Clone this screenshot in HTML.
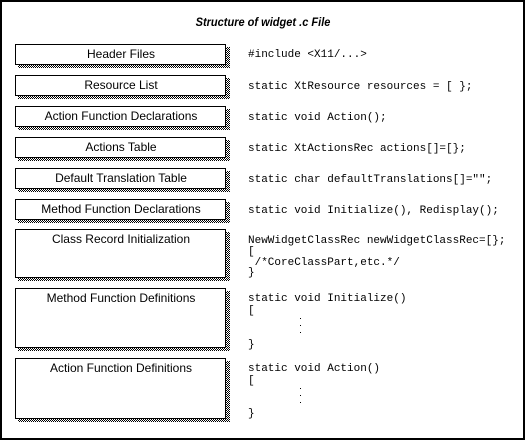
<!DOCTYPE html>
<html><head><style>
html,body{margin:0;padding:0;background:#fff}
svg{display:block}
.l{font-family:"Liberation Sans",sans-serif;font-size:12px;fill:#000}
.c{font-family:"Liberation Mono",monospace;font-size:11px;fill:#000}
</style></head><body>
<svg width="526" height="441" xmlns="http://www.w3.org/2000/svg">
<defs>
<pattern id="d" width="2" height="2" patternUnits="userSpaceOnUse">
<rect width="2" height="2" fill="#fff"/><rect width="1" height="1" fill="#000"/><rect x="1" y="1" width="1" height="1" fill="#000"/>
</pattern>
</defs>
<rect x="1" y="1" width="523" height="438" fill="#fff" stroke="#000" stroke-width="2"/>
<text x="263" y="26" text-anchor="middle" font-family="Liberation Sans,sans-serif" font-size="12" font-style="italic" font-weight="bold" transform="translate(263 0) scale(0.92 1) translate(-263 0)">Structure of widget .c File</text>
<g>
<rect x="18" y="47" width="212" height="21" fill="url(#d)"/><rect x="15.5" y="44.5" width="210" height="20" fill="#fff" stroke="#000"/>
<rect x="18" y="78" width="212" height="21" fill="url(#d)"/><rect x="15.5" y="75.5" width="210" height="20" fill="#fff" stroke="#000"/>
<rect x="18" y="109" width="212" height="21" fill="url(#d)"/><rect x="15.5" y="106.5" width="210" height="20" fill="#fff" stroke="#000"/>
<rect x="18" y="140" width="212" height="21" fill="url(#d)"/><rect x="15.5" y="137.5" width="210" height="20" fill="#fff" stroke="#000"/>
<rect x="18" y="171" width="212" height="21" fill="url(#d)"/><rect x="15.5" y="168.5" width="210" height="20" fill="#fff" stroke="#000"/>
<rect x="18" y="202" width="212" height="21" fill="url(#d)"/><rect x="15.5" y="199.5" width="210" height="20" fill="#fff" stroke="#000"/>
<rect x="18" y="232" width="212" height="49" fill="url(#d)"/><rect x="15.5" y="229.5" width="210" height="48" fill="#fff" stroke="#000"/>
<rect x="18" y="291" width="212" height="60" fill="url(#d)"/><rect x="15.5" y="288.5" width="210" height="59" fill="#fff" stroke="#000"/>
<rect x="18" y="361" width="212" height="61" fill="url(#d)"/><rect x="15.5" y="358.5" width="210" height="60" fill="#fff" stroke="#000"/>
</g>
<g class="l" text-anchor="middle">
<text x="121" y="58">Header Files</text>
<text x="121" y="89">Resource List</text>
<text x="121" y="120">Action Function Declarations</text>
<text x="121" y="151">Actions Table</text>
<text x="121" y="182">Default Translation Table</text>
<text x="121" y="213">Method Function Declarations</text>
<text x="121" y="243">Class Record Initialization</text>
<text x="121" y="302">Method Function Definitions</text>
<text x="121" y="372">Action Function Definitions</text>
</g>
<g class="c">
<text x="248" y="57">#include &lt;X11/...&gt;</text>
<text x="248" y="89">static XtResource resources = [ };</text>
<text x="248" y="120">static void Action();</text>
<text x="248" y="151">static XtActionsRec actions[]=[};</text>
<text x="248" y="182">static char defaultTranslations[]="";</text>
<text x="248" y="213">static void Initialize(), Redisplay();</text>
<text x="248" y="243">NewWidgetClassRec newWidgetClassRec=[};</text>
<text x="248" y="254">[</text>
<text x="248" y="265">&#160;/*CoreClassPart,etc.*/</text>
<text x="248" y="275">}</text>
<text x="248" y="301">static void Initialize()</text>
<text x="248" y="313">[</text>
<text x="248" y="347">}</text>
<text x="248" y="371">static void Action()</text>
<text x="248" y="383">[</text>
<text x="248" y="416">}</text>
</g>
<g fill="#000">
<rect x="300" y="318" width="1" height="1"/><rect x="300" y="325" width="1" height="1"/><rect x="300" y="332" width="1" height="1"/>
<rect x="300" y="388" width="1" height="1"/><rect x="300" y="395" width="1" height="1"/><rect x="300" y="402" width="1" height="1"/>
</g>
</svg>
</body></html>
